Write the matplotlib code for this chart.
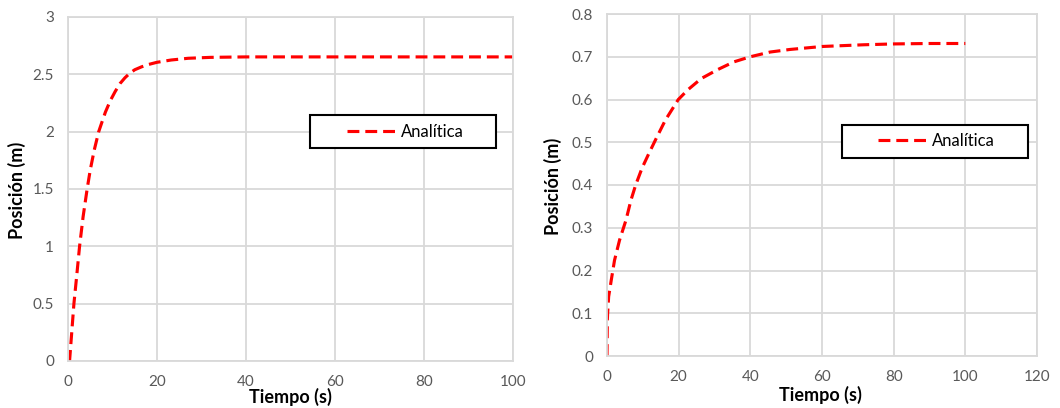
import matplotlib
matplotlib.use("Agg")
import matplotlib.pyplot as plt
from matplotlib.patches import Rectangle

# Left panel: analytic position vs time
t_left = [0, 0.37, 1.33, 2.0, 2.6, 3.4, 4.3, 5.0, 5.9, 6.9, 7.6, 8.4, 9.5, 10.6, 11.7,
          12.8, 13.9, 15.0, 16.5, 18.0, 20.0, 23.2, 27, 32, 40, 60, 80, 100]
y_left = [0, 0.01, 0.5, 0.76, 1.0, 1.26, 1.5, 1.666, 1.84, 2.0, 2.08, 2.17, 2.27, 2.35, 2.42,
          2.47, 2.51, 2.54, 2.565, 2.585, 2.605, 2.625, 2.64, 2.648, 2.652, 2.652, 2.652, 2.652]

# Right panel: analytic position vs time
t_right = [0, 0.09, 0.18, 0.46, 1.2, 2.1, 3.5, 5.3, 6.7, 8.0, 9.8, 11.7, 13.5, 16.3,
           19.9, 22.6, 26.3, 30.9, 35.4, 40.0, 45.5, 51.0, 60.0, 71.6, 80.0, 90.0, 100.0]
y_right = [0, 0.084, 0.1, 0.139, 0.178, 0.224, 0.271, 0.318, 0.365, 0.40, 0.44, 0.474, 0.505, 0.552,
           0.6, 0.623, 0.649, 0.670, 0.688, 0.70, 0.711, 0.717, 0.724, 0.728, 0.730, 0.731, 0.731]

legend_label = "Analítica"
x_label = "Tiempo (s)"
y_label = "Posición (m)"

plt.rcParams['font.family'] = ['Lato', 'DejaVu Sans']

fig = plt.figure(figsize=(10.6, 4.08), dpi=100)
ax1 = fig.add_axes([68 / 1060, 1 - 361 / 408, 445 / 1060, 344 / 408])
ax2 = fig.add_axes([607 / 1060, 1 - 356 / 408, 430 / 1060, 342 / 408])

grid_col = "#d9d9d9"
tick_col = "#595959"


def style_axes(ax, xmax, xstep, ymax, ystep):
    ax.set_xlim(0, xmax)
    ax.set_ylim(0, ymax)
    ax.set_xticks([i * xstep for i in range(int(round(xmax / xstep)) + 1)])
    n = int(round(ymax / ystep))
    yt = [round(i * ystep, 3) for i in range(n + 1)]
    ax.set_yticks(yt)
    ax.set_yticklabels(["%g" % v for v in yt])
    ax.grid(True, color=grid_col, linewidth=1.3)
    ax.set_axisbelow(True)
    for s in ax.spines.values():
        s.set_color(grid_col)
        s.set_linewidth(1.3)
    ax.tick_params(length=0, labelsize=11, labelcolor=tick_col, pad=10)


for ax, t, y in [(ax1, t_left, y_left), (ax2, t_right, y_right)]:
    line, = ax.plot(t, y, color="#ff0000", linewidth=2.25, label=legend_label)
    line.set_dashes([3.8, 1.9])

style_axes(ax1, 100, 20, 3, 0.5)
style_axes(ax2, 120, 20, 0.8, 0.1)

# legend boxes (frame drawn as a rectangle, entries via legend)
boxes = [(ax1, (0.5438, 0.6192), 0.418, 0.0959, (0.6263, 0.6657)),
         (ax2, (0.5458, 0.5789), 0.4326, 0.0965, (0.6295, 0.6287))]
for ax, xy, w, h, anchor in boxes:
    ax.add_patch(Rectangle(xy, w, h, transform=ax.transAxes, facecolor="white",
                           edgecolor="black", linewidth=1.5, zorder=4))
    leg = ax.legend(loc="center left", bbox_to_anchor=anchor, fontsize=12,
                    handlelength=2.9, handletextpad=0.36, borderpad=0,
                    borderaxespad=0, frameon=False)
    leg.set_zorder(5)

# axis labels
fig.text(290 / 1060, 1 - 397 / 408, x_label, ha="center", va="center",
         fontsize=13, fontweight="bold")
fig.text(820 / 1060, 1 - 395 / 408, x_label, ha="center", va="center",
         fontsize=13, fontweight="bold")
fig.text(17 / 1060, 1 - 190 / 408, y_label, ha="center", va="center",
         rotation=90, fontsize=13, fontweight="bold")
fig.text(553 / 1060, 1 - 186 / 408, y_label, ha="center", va="center",
         rotation=90, fontsize=13, fontweight="bold")

fig.savefig("out.png", dpi=100)
